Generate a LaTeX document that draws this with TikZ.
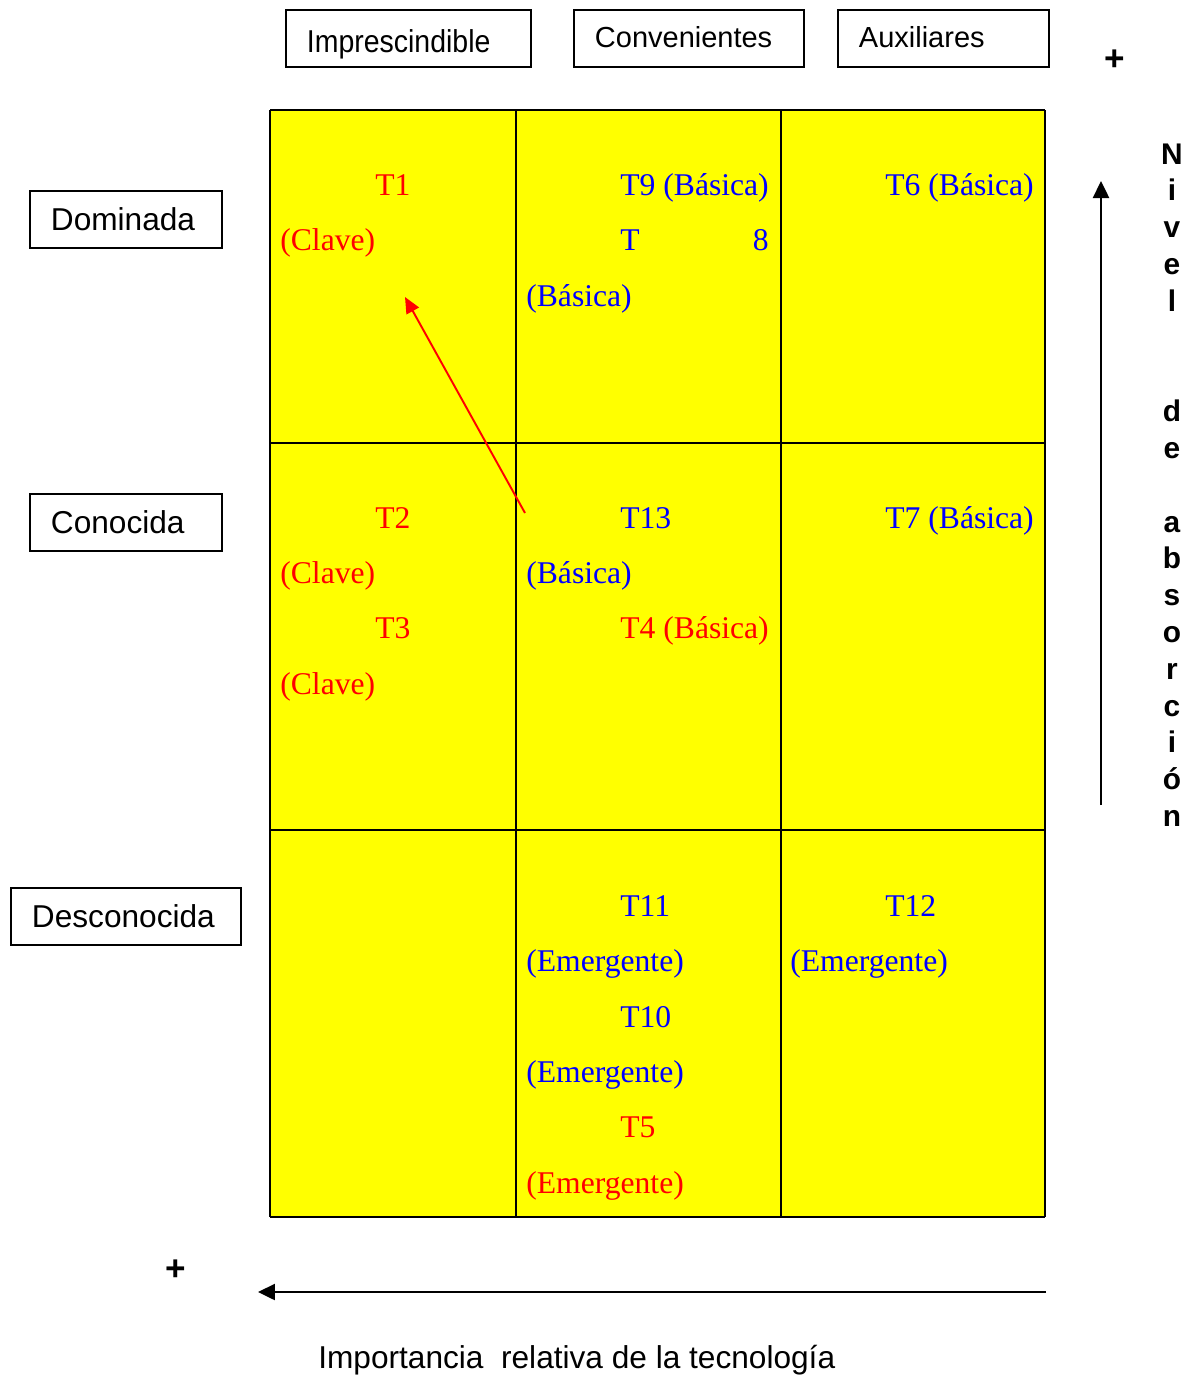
\documentclass[tikz,border=0pt]{standalone}
\usepackage{fontspec}
\setmainfont{Liberation Serif}
\newfontfamily\arialfont{Liberation Sans}
\newfontfamily\narrowfont[FakeStretch=0.9]{Liberation Sans}
\usepackage{tikz}
\usetikzlibrary{arrows.meta, positioning, calc}
\definecolor{cellyellow}{RGB}{255,255,0}
\definecolor{techred}{RGB}{255,0,0}
\definecolor{techblue}{RGB}{0,0,255}

\tikzset{
  labelbox/.style={draw, line width=1.1pt, align=left, anchor=north west,
    inner xsep=0.42cm, inner ysep=0pt, minimum height=1.14cm,
    font=\arialfont\fontsize{18}{20}\selectfont},
  topbox/.style={labelbox, text depth=0pt, font=\arialfont\fontsize{16.5}{19}\selectfont},
  celltext/.style={anchor=base west, inner sep=0pt, font=\fontsize{18}{20}\selectfont},
  redtxt/.style={celltext, text=techred},
  bluetxt/.style={celltext, text=techblue},
  vletter/.style={anchor=base, inner sep=0pt, font=\arialfont\bfseries\fontsize{17}{20}\selectfont},
  plussign/.style={inner sep=0pt, font=\arialfont\bfseries\fontsize{20}{22}\selectfont},
  axisarrow/.style={line width=1.4pt, -{Triangle[width=0.32cm, length=0.34cm]}},
  movearrow/.style={techred, line width=1.1pt, -{Triangle[width=0.28cm, length=0.32cm]}}
}

\begin{document}
\begin{tikzpicture}[x=0.02cm, y=-0.02cm]
  \useasboundingbox[fill=white] (0,0) rectangle (1198,1376);

  % Matrix background and grid
  \fill[cellyellow] (270,110) rectangle (1045,1217);
  \foreach \gx in {270,516,781,1045}
    \draw[line width=1.2pt] (\gx,110) -- (\gx,1217);
  \foreach \gy in {110,443,830,1217}
    \draw[line width=1.2pt] (270,\gy) -- (1045,\gy);

  % Column headers
  \node[topbox, text width=4.06cm, text height=0.56cm, font=\narrowfont\fontsize{18}{20}\selectfont] (impres) at (285,9) {Imprescindible};
  \node[topbox, text width=3.76cm, text height=0.37cm] (conven) at (573,9) {Convenientes};
  \node[topbox, text width=3.38cm, text height=0.37cm] (auxil) at (837,9) {Auxiliares};

  % Row headers
  \node[labelbox, text width=3.0cm] (domin) at (29,190) {Dominada};
  \node[labelbox, text width=3.0cm] (conoc) at (29,493) {Conocida};
  \node[labelbox, text width=3.76cm] (descon) at (10,887) {Desconocida};

  % Row 1: Dominada
  \node[redtxt] (t1a) at (375,195) {T1};
  \node[redtxt] (t1b) at (280,250) {(Clave)};
  \node[bluetxt] (t9) at (620,195) {T9 (Básica)};
  \node[bluetxt] (t8a) at (620,250) {T};
  \node[bluetxt, anchor=base east] (t8b) at (769,250) {8};
  \node[bluetxt] (t8c) at (526,306) {(Básica)};
  \node[bluetxt] (t6) at (885,195) {T6 (Básica)};

  % Row 2: Conocida
  \node[redtxt] (t2a) at (375,528) {T2};
  \node[redtxt] (t2b) at (280,583) {(Clave)};
  \node[redtxt] (t3a) at (375,638) {T3};
  \node[redtxt] (t3b) at (280,694) {(Clave)};
  \node[bluetxt] (t13a) at (620,528) {T13};
  \node[bluetxt] (t13b) at (526,583) {(Básica)};
  \node[redtxt] (t4) at (620,638) {T4 (Básica)};
  \node[bluetxt] (t7) at (885,528) {T7 (Básica)};

  % Row 3: Desconocida
  \node[bluetxt] (t11a) at (620,916) {T11};
  \node[bluetxt] (t11b) at (526,971) {(Emergente)};
  \node[bluetxt] (t10a) at (620,1027) {T10};
  \node[bluetxt] (t10b) at (526,1082) {(Emergente)};
  \node[redtxt] (t5a) at (620,1137) {T5};
  \node[redtxt] (t5b) at (526,1193) {(Emergente)};
  \node[bluetxt] (t12a) at (885,916) {T12};
  \node[bluetxt] (t12b) at (790,971) {(Emergente)};

  % Movement arrow
  \coordinate (movefrom) at (525,513);
  \coordinate (moveto) at (405,297);
  \draw[movearrow] (movefrom) -- (moveto);

  % Vertical axis
  \node[plussign] (plustop) at (1115,60) {+};
  \coordinate (vbot) at (1101,805);
  \coordinate (vtop) at (1101,181);
  \draw[axisarrow] (vbot) -- (vtop);
  \foreach \ch/\row in {N/0,i/1,v/2,e/3,l/4,d/7,e/8,a/10,b/11,s/12,o/13,r/14,c/15,i/16,ó/17,n/18}
    \node[vletter] (nv\row) at (1172,164+36.8*\row) {\ch};

  % Horizontal axis
  \node[plussign] (plusleft) at (176,1270) {+};
  \coordinate (hright) at (1046,1292);
  \coordinate (hleft) at (258,1292);
  \draw[axisarrow] (hright) -- (hleft);
  \node[anchor=base west, inner sep=0pt, font=\arialfont\fontsize{18}{20}\selectfont] (importancia) at (318,1368) {Importancia\ \ relativa de la tecnología};
\end{tikzpicture}
\end{document}
